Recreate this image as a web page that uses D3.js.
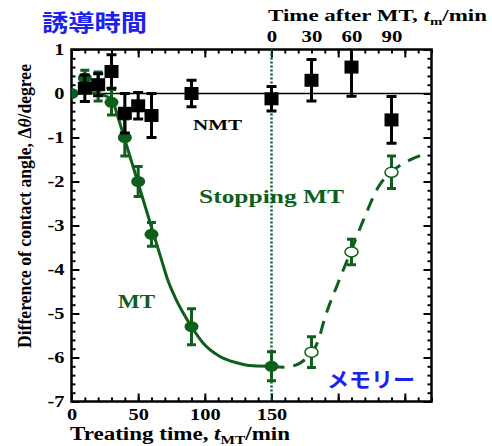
<!DOCTYPE html>
<html>
<head>
<meta charset="utf-8">
<script src="https://cdn.jsdelivr.net/npm/d3@7"></script>
<style>
body { margin: 0; background: #fff; }
svg { display: block; }
</style>
</head>
<body>
<div class="chart"></div>
<script>
var width = 492;
var height = 446;
var green = "#0e5e1c";
var blue = "#1a22f0";
var serif = "'Liberation Serif','Times New Roman',serif";
var cjk = "'Noto Sans CJK JP','Noto Sans CJK SC',sans-serif";

// MT, filled circles (treating time, value, error)
var mtTime = [0, 10, 20, 30, 40, 50, 60, 90, 150];
var mtValue = [0, 0.35, 0.16, -0.2, -1.0, -2.0, -3.2, -5.3, -6.2];
var mtError = [0, 0.18, 0.33, 0.29, 0.42, 0.34, 0.27, 0.41, 0.33];

// after stopping MT, open circles
var memTime = [180, 210, 240];
var memValue = [-5.88, -3.6, -1.79];
var memError = [0.35, 0.29, 0.37];

// NMT, black squares
var nmtTime = [10, 20, 30, 40, 50, 60, 90, 150, 180, 210, 240];
var nmtValue = [0.12, 0.2, 0.5, -0.45, -0.28, -0.5, 0.0, -0.12, 0.3, 0.6, -0.6];
var nmtError = [0.3, 0.25, 0.38, 0.45, 0.3, 0.5, 0.3, 0.28, 0.47, 0.66, 0.53];

// fitted curve during MT (solid)
var fitTime = [0, 10, 20, 25, 30, 35, 40, 50, 60, 67.5, 72, 77.5, 84, 90, 99, 111, 124, 136, 150];
var fitValue = [0, 0.02, 0, -0.05, -0.13, -0.55, -1.05, -2.04, -3.04, -3.78, -4.22, -4.62, -5.0, -5.3, -5.68, -5.97, -6.12, -6.19, -6.2];

// recovery curve after MT (dashed)
var memFitTime = [150, 160, 170, 175, 180, 185, 190, 200, 210, 220, 230, 240, 250, 260, 266];
var memFitValue = [-6.2, -6.22, -6.15, -6.05, -5.9, -5.62, -5.1, -4.3, -3.55, -2.8, -2.13, -1.78, -1.57, -1.43, -1.36];

var xMajor = [0, 50, 100, 150, 200, 250];
var xLabels = [0, 50, 100, 150];
var topLabels = [0, 30, 60, 90];
var yMajor = [1, 0, -1, -2, -3, -4, -5, -6, -7];

var chart_svg = d3.select(".chart").append("svg")
	.attr("width", width)
	.attr("height", height);

var x = d3.scaleLinear().domain([0, 270]).range([71.5, 431.5]);
var y = d3.scaleLinear().domain([-7, 1]).range([401.5, 49.5]);

chart_svg.append("defs").append("clipPath").attr("id", "plot")
	.append("rect")
	.attr("x", x(0)).attr("y", y(1))
	.attr("width", x(270) - x(0)).attr("height", y(-7) - y(1));

// stretch text sideways like the original picture
function stretch(sel, k) {
	sel.each(function() {
		var w = this.getComputedTextLength();
		d3.select(this).attr("textLength", w * k).attr("lengthAdjust", "spacingAndGlyphs");
	});
}

function axisGroup(axis, tx, ty) {
	var g = chart_svg.append("g")
		.attr("transform", "translate(" + tx + "," + ty + ")")
		.call(axis);
	g.select(".domain").remove();
	g.selectAll("line").attr("stroke", "#000").attr("stroke-width", 2);
	g.selectAll("text")
		.attr("font-family", serif)
		.attr("font-weight", "bold")
		.attr("font-size", 17)
		.attr("fill", "#000");
	return g;
}

var minorX = d3.range(0, 271, 10);
var minorY = d3.range(-7, 1.01, 0.2).map(function(d) { return +d.toFixed(1); });

axisGroup(d3.axisBottom(x).tickValues(minorX).tickSize(-4).tickFormat(""), 0, y(-7));
var gb = axisGroup(d3.axisBottom(x).tickValues(xMajor).tickSize(-8).tickPadding(6)
	.tickFormat(function(d) { return xLabels.indexOf(d) >= 0 ? d : ""; }), 0, y(-7));
axisGroup(d3.axisTop(x).tickValues(minorX).tickSize(-4).tickFormat(""), 0, y(1));
axisGroup(d3.axisTop(x).tickValues(xMajor).tickSize(-8).tickFormat(""), 0, y(1));
var gt = axisGroup(d3.axisTop(x).tickValues(topLabels.map(function(d) { return d + 150; }))
	.tickSize(0).tickPadding(8).tickFormat(function(d) { return d - 150; }), 0, y(1));
gt.selectAll("text").attr("font-size", 16);

axisGroup(d3.axisLeft(y).tickValues(minorY).tickSize(-4).tickFormat(""), x(0), 0);
var gl = axisGroup(d3.axisLeft(y).tickValues(yMajor).tickSize(-8).tickPadding(7)
	.tickFormat(function(d) { return String(d); }), x(0), 0);
axisGroup(d3.axisRight(y).tickValues(minorY).tickSize(-4).tickFormat(""), x(270), 0);
axisGroup(d3.axisRight(y).tickValues(yMajor).tickSize(-8).tickFormat(""), x(270), 0);

stretch(gb.selectAll("text"), 1.2);
stretch(gt.selectAll("text"), 1.3);
stretch(gl.selectAll("text"), 1.2);

// zero line and frame
chart_svg.append("line")
	.attr("x1", x(0)).attr("x2", x(270))
	.attr("y1", y(0)).attr("y2", y(0))
	.attr("stroke", "#000").attr("stroke-width", 1.6);

chart_svg.append("rect")
	.attr("x", x(0)).attr("y", y(1))
	.attr("width", x(270) - x(0)).attr("height", y(-7) - y(1))
	.attr("fill", "none").attr("stroke", "#000").attr("stroke-width", 2.5);

// end of MT
chart_svg.append("line")
	.attr("x1", x(150)).attr("x2", x(150))
	.attr("y1", y(1)).attr("y2", y(-7))
	.attr("stroke", green).attr("stroke-width", 2.5)
	.attr("stroke-dasharray", "2,2");

var plot = chart_svg.append("g").attr("clip-path", "url(#plot)");

var line = d3.line()
	.x(function(d) { return x(d[0]); })
	.y(function(d) { return y(d[1]); })
	.curve(d3.curveMonotoneX);

plot.append("path")
	.datum(d3.zip(fitTime, fitValue))
	.attr("d", line)
	.attr("fill", "none").attr("stroke", green).attr("stroke-width", 3);

plot.append("path")
	.datum(d3.zip(memFitTime, memFitValue))
	.attr("d", line)
	.attr("fill", "none").attr("stroke", green).attr("stroke-width", 3)
	.attr("stroke-dasharray", "13,9");

function errorBars(times, values, errs, color, cap) {
	var g = plot.append("g").attr("stroke", color).attr("stroke-width", 3);
	var rows = d3.zip(times, values, errs).filter(function(d) { return d[2] > 0; });
	g.selectAll(".bar").data(rows).enter().append("line")
		.attr("x1", function(d) { return x(d[0]); })
		.attr("x2", function(d) { return x(d[0]); })
		.attr("y1", function(d) { return y(d[1] + d[2]); })
		.attr("y2", function(d) { return y(d[1] - d[2]); });
	[1, -1].forEach(function(s) {
		g.selectAll(".cap" + s).data(rows).enter().append("line")
			.attr("x1", function(d) { return x(d[0]) - cap / 2; })
			.attr("x2", function(d) { return x(d[0]) + cap / 2; })
			.attr("y1", function(d) { return y(d[1] + s * d[2]); })
			.attr("y2", function(d) { return y(d[1] + s * d[2]); });
	});
}

errorBars(memTime, memValue, memError, green, 9);
plot.selectAll(".mem").data(d3.zip(memTime, memValue)).enter().append("ellipse")
	.attr("cx", function(d) { return x(d[0]); })
	.attr("cy", function(d) { return y(d[1]); })
	.attr("rx", 6.5).attr("ry", 5)
	.attr("fill", "#fff").attr("stroke", green).attr("stroke-width", 1.5);

errorBars(mtTime, mtValue, mtError, green, 9);
plot.selectAll(".mt").data(d3.zip(mtTime, mtValue)).enter().append("ellipse")
	.attr("cx", function(d) { return x(d[0]); })
	.attr("cy", function(d) { return y(d[1]); })
	.attr("rx", 7).attr("ry", 5.5)
	.attr("fill", green);

errorBars(nmtTime, nmtValue, nmtError, "#000", 10);
plot.selectAll(".nmt").data(d3.zip(nmtTime, nmtValue)).enter().append("rect")
	.attr("x", function(d) { return x(d[0]) - 7; })
	.attr("y", function(d) { return y(d[1]) - 6.5; })
	.attr("width", 14).attr("height", 13)
	.attr("fill", "#000");

// labels
function label(x0, y0, size, color, family, w) {
	var t = chart_svg.append("text")
		.attr("x", x0).attr("y", y0)
		.attr("font-family", family)
		.attr("font-weight", "bold")
		.attr("font-size", size)
		.attr("fill", color);
	t.fit = function() {
		t.attr("textLength", w).attr("lengthAdjust", "spacingAndGlyphs");
		return t;
	};
	return t;
}

label(42, 31, 23, blue, cjk, 105).text("誘導時間").fit();
label(327, 387, 21, blue, cjk, 88).text("メモリー").fit();
label(193, 130, 15, "#000", serif, 49).text("NMT").fit();
label(199, 203, 18, green, serif, 145).text("Stopping MT").fit();
label(118, 308, 18, green, serif, 37).text("MT").fit();

var tt = label(268, 21, 17, "#000", serif, 219);
tt.append("tspan").text("Time after MT, ");
tt.append("tspan").attr("font-style", "italic").text("t");
tt.append("tspan").attr("font-size", 11).attr("dy", 4).text("m");
tt.append("tspan").attr("dy", -4).text("/min");
tt.fit();

var xt = label(70, 440, 18, "#000", serif, 220);
xt.append("tspan").text("Treating time, ");
xt.append("tspan").attr("font-style", "italic").text("t");
xt.append("tspan").attr("font-size", 12).attr("dy", 4).text("MT");
xt.append("tspan").attr("dy", -4).text("/min");
xt.fit();

var yt = chart_svg.append("text")
	.attr("transform", "translate(31,206) scale(1.2,1) rotate(-90)")
	.attr("text-anchor", "middle")
	.attr("font-family", serif)
	.attr("font-weight", "bold")
	.attr("font-size", 16)
	.attr("textLength", 284).attr("lengthAdjust", "spacingAndGlyphs");
yt.append("tspan").text("Difference of contact angle, Δ");
yt.append("tspan").attr("font-style", "italic").text("θ");
yt.append("tspan").text("/degree");
</script>
</body>
</html>
